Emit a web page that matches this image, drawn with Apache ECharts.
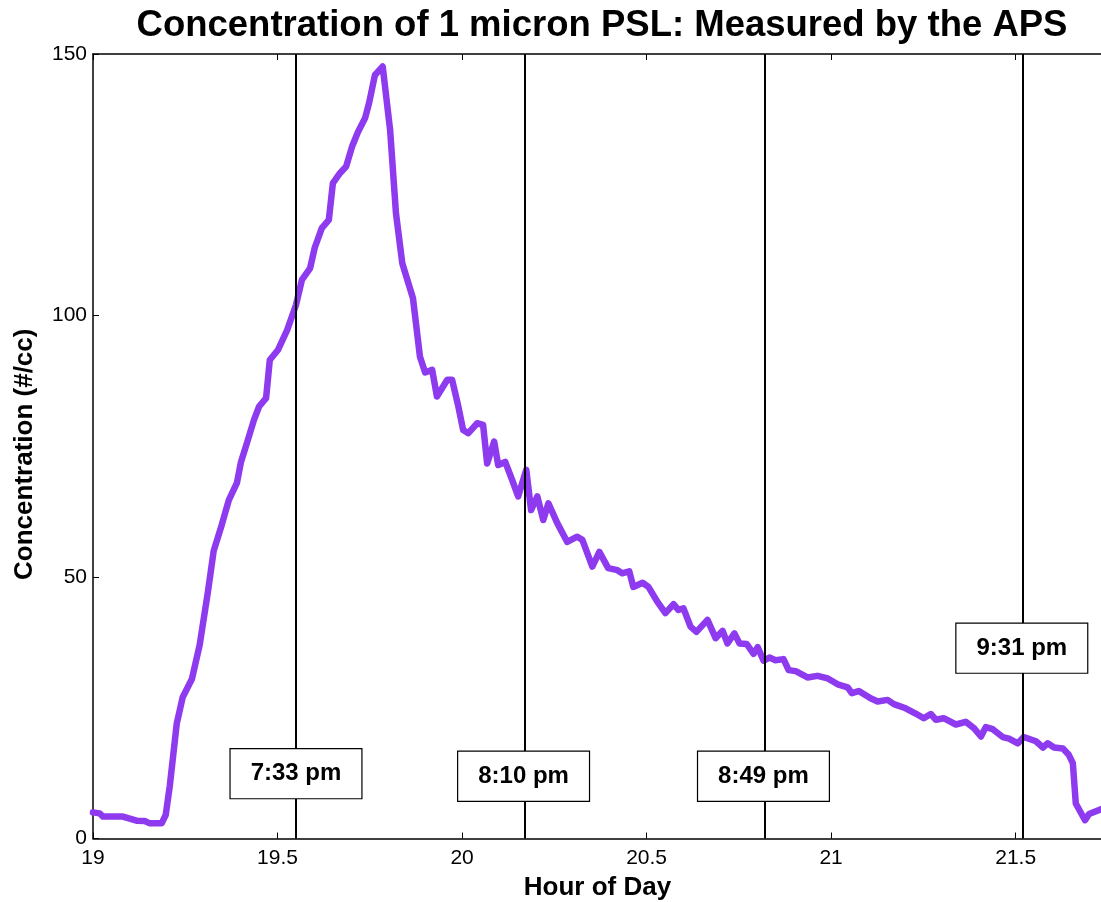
<!DOCTYPE html>
<html>
<head>
<meta charset="utf-8">
<title>Concentration of 1 micron PSL</title>
<script src="https://cdn.jsdelivr.net/npm/echarts@6/dist/echarts.min.js"></script>
<style>
  html, body { margin: 0; padding: 0; background: #ffffff; }
  #chart { width: 1101px; height: 902px; }
</style>
</head>
<body>
<div id="chart"></div>
<script>
// APS measurement: time of day (hours) and concentration (#/cc)
const hours = [
  19.000, 19.018, 19.027, 19.081, 19.118, 19.140, 19.154, 19.186,
  19.197, 19.208, 19.227, 19.243, 19.268, 19.289, 19.311, 19.327,
  19.349, 19.368, 19.390, 19.401, 19.417, 19.436, 19.450, 19.469,
  19.479, 19.501, 19.526, 19.550, 19.566, 19.588, 19.601, 19.620,
  19.639, 19.650, 19.669, 19.686, 19.702, 19.718, 19.737, 19.748,
  19.764, 19.785, 19.805, 19.821, 19.838, 19.867, 19.886, 19.900,
  19.919, 19.932, 19.960, 19.973, 19.989, 20.003, 20.017, 20.041,
  20.057, 20.068, 20.087, 20.098, 20.117, 20.136, 20.152, 20.174,
  20.187, 20.204, 20.220, 20.234, 20.258, 20.285, 20.312, 20.326,
  20.353, 20.372, 20.396, 20.421, 20.434, 20.453, 20.464, 20.489,
  20.505, 20.529, 20.551, 20.573, 20.586, 20.600, 20.619, 20.635,
  20.665, 20.687, 20.706, 20.719, 20.738, 20.752, 20.771, 20.790,
  20.801, 20.817, 20.833, 20.849, 20.871, 20.885, 20.904, 20.936,
  20.963, 20.991, 21.020, 21.045, 21.056, 21.075, 21.107, 21.126,
  21.153, 21.170, 21.202, 21.229, 21.251, 21.270, 21.284, 21.305,
  21.338, 21.365, 21.387, 21.406, 21.419, 21.438, 21.465, 21.482,
  21.506, 21.522, 21.555, 21.574, 21.587, 21.604, 21.628, 21.644,
  21.655, 21.663, 21.688, 21.699, 21.731
];
const conc = [
  5.0, 4.8, 4.2, 4.2, 3.4, 3.35, 2.9, 2.9,
  4.5, 10.0, 22.0, 27.0, 30.5, 37.0, 47.0, 55.0,
  60.0, 64.7, 68.0, 72.0, 75.6, 80.0, 82.6, 84.2,
  91.5, 93.4, 97.2, 102.0, 106.8, 109.0, 113.0, 116.7,
  118.3, 125.3, 127.2, 128.5, 132.3, 135.1, 137.7, 140.6,
  146.0, 147.6, 135.5, 119.5, 110.0, 103.3, 92.1, 89.1,
  89.6, 84.5, 87.7, 87.7, 82.9, 78.1, 77.5, 79.4,
  79.1, 71.7, 75.9, 71.4, 72.0, 68.5, 65.4, 70.5,
  62.8, 65.4, 60.9, 64.1, 60.3, 56.7, 57.7, 57.1,
  52.0, 54.8, 51.7, 51.3, 50.7, 51.1, 48.1, 48.9,
  48.1, 45.3, 43.1, 44.8, 43.7, 44.0, 40.5, 39.5,
  41.8, 38.3, 39.7, 37.3, 39.2, 37.3, 37.2, 35.3,
  36.6, 34.0, 34.6, 34.1, 34.3, 32.2, 32.0, 30.8,
  31.1, 30.6, 29.4, 28.9, 27.8, 28.2, 26.8, 26.2,
  26.5, 25.7, 24.9, 23.9, 23.0, 23.8, 22.7, 23.0,
  21.8, 22.3, 21.1, 19.5, 21.3, 20.9, 19.4, 19.1,
  18.2, 19.4, 18.6, 17.4, 18.2, 17.4, 17.2, 16.0,
  14.4, 6.7, 3.5, 4.7, 5.6
];

// Event markers (vertical lines) and their labels
const eventHours  = [19.55, 20.1667, 20.8167, 21.5167];
const eventLabels = ['7:33 pm', '8:10 pm', '8:49 pm', '9:31 pm'];
const labelLevels = [12.4, 11.9, 11.9, 36.4];

// Axis ranges and ticks
const xMin = 19, xMax = 21.734, xStep = 0.5;
const yMin = 0, yMax = 150, yStep = 50;

const chart = echarts.init(document.getElementById('chart'));

const fontFamily = '"Liberation Sans", Arial, Helvetica, sans-serif';

const tickStyle = { inside: true, length: 6, lineStyle: { color: '#000', width: 1 } };
const lineStyle = { show: true, lineStyle: { color: '#000', width: 1.5 } };

const option = {
  animation: false,
  backgroundColor: '#ffffff',
  title: {
    text: 'Concentration of 1 micron PSL: Measured by the APS',
    left: 597,
    top: 2,
    textAlign: 'center',
    textStyle: { fontFamily, fontSize: 36.5, fontWeight: 'bold', color: '#000' }
  },
  grid: { left: 93, right: -1, top: 54, bottom: 63.5, containLabel: false, outerBoundsMode: 'none' },
  xAxis: [
    {
      type: 'value', min: xMin, max: xMax, interval: xStep,
      name: 'Hour of Day', nameLocation: 'middle', nameGap: 36,
      nameTextStyle: { fontFamily, fontSize: 26, fontWeight: 'bold', color: '#000' },
      axisLine: lineStyle, axisTick: tickStyle,
      axisLabel: { fontFamily, fontSize: 21, color: '#000', margin: 9, showMaxLabel: false },
      splitLine: { show: false }
    },
    {
      type: 'value', min: xMin, max: xMax, interval: xStep, position: 'top',
      axisLine: lineStyle, axisTick: tickStyle,
      axisLabel: { show: false }, splitLine: { show: false }
    }
  ],
  yAxis: [
    {
      type: 'value', min: yMin, max: yMax, interval: yStep,
      name: 'Concentration (#/cc)', nameLocation: 'middle', nameGap: 55,
      nameTextStyle: { fontFamily, fontSize: 26, fontWeight: 'bold', color: '#000', padding: [0, 16, 0, 0] },
      axisLine: lineStyle, axisTick: tickStyle,
      axisLabel: { fontFamily, fontSize: 21, color: '#000', margin: 6 },
      splitLine: { show: false }
    }
  ],
  series: [
    {
      name: 'events',
      type: 'line',
      data: [],
      silent: true,
      z: 2,
      markLine: {
        symbol: 'none',
        silent: true,
        label: { show: false },
        lineStyle: { color: '#000', width: 2, type: 'solid' },
        data: eventHours.map(h => ({ xAxis: h }))
      }
    },
    {
      name: 'conc',
      type: 'line',
      data: hours.map((h, i) => [h, conc[i]]),
      showSymbol: false,
      symbol: 'none',
      z: 3,
      lineStyle: { color: '#8E3AEE', width: 6.5, join: 'round', cap: 'round' }
    },
    {
      name: 'labels',
      type: 'scatter',
      symbolSize: 0,
      z: 5,
      itemStyle: { opacity: 1 },
      data: eventHours.map((h, i) => ({ value: [h, labelLevels[i]], name: eventLabels[i] })),
      label: {
        show: true,
        position: 'inside',
        formatter: p => p.name,
        fontFamily,
        fontSize: 24,
        fontWeight: 'bold',
        color: '#000',
        opacity: 1,
        backgroundColor: '#ffffff',
        borderColor: '#000',
        borderWidth: 1.2,
        padding: [12, 20, 12, 20],
        lineHeight: 25
      }
    }
  ]
};

chart.setOption(option);
</script>
</body>
</html>
